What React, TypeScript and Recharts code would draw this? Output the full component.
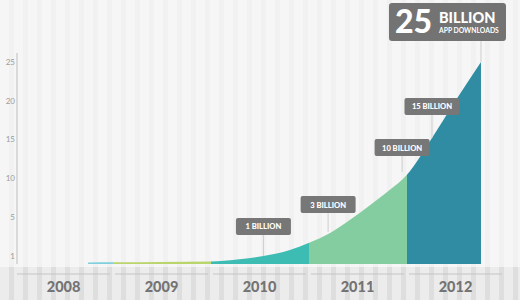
import React from 'react';
import { AreaChart, Area, XAxis, YAxis, ReferenceDot } from 'recharts';

// ---- data ----
const years = [2008, 2009, 2010, 2011, 2012];
const curveYears = [2008.75, 2009.0, 2009.5, 2010.0, 2010.27, 2010.54, 2010.81, 2011.0, 2011.22, 2011.42, 2011.63, 2011.83, 2012.0, 2012.26, 2012.5, 2012.76];
const curveValues = [-0.87, -0.84, -0.8, -0.74, -0.5, -0.03, 0.74, 1.65, 2.94, 4.6, 6.55, 8.5, 10.4, 15.2, 20.0, 25.0];
const yTickValues = [0, 5, 10, 15, 20, 25];
const yTickLabels = ['1', '5', '10', '15', '20', '25'];
const annotationYears = [2010.54, 2011.2, 2011.955, 2012.26, 2012.76];
const annotationValues = [-0.03, 3.06, 10.8, 15.2, 25.0];
const annotationLabels = ['1 BILLION', '3 BILLION', '10 BILLION', '15 BILLION', '25 BILLION'];
const segmentColors = ['#7fcfdc', '#b9d56c', '#3cbcb2', '#84cda0', '#2f8ca2'];

const data = curveYears.map((t, i) => ({ t, v: curveValues[i] }));

const FONT = "Lato, 'Open Sans', 'Liberation Sans', sans-serif";
const LIFTS = [21, 19, 16, 23, 21];

const start = curveYears[0];
const end = curveYears[curveYears.length - 1];
const stops: { off: number; color: string }[] = [];
years.forEach((y, i) => {
  const from = i === 0 ? start : y;
  const to = i === years.length - 1 ? end : years[i + 1];
  stops.push({ off: (from - start) / (end - start), color: segmentColors[i] });
  stops.push({ off: (to - start) / (end - start), color: segmentColors[i] });
});

const YearTick = (props: any) => {
  const { x, y, payload } = props;
  return (
    <g>
      <line x1={x - 46.5} x2={x + 46.5} y1={y + 10} y2={y + 10} stroke="#c4c4c4" strokeWidth={1} />
      <text x={x} y={y + 27.5} textAnchor="middle" fill="#747474" fontSize={14.5} fontWeight={900} fontFamily={FONT}>
        {Math.floor(payload.value)}
      </text>
    </g>
  );
};

const makeMarker = (label: string, big: boolean, lift: number) => (props: any) => {
  const { cx, cy } = props;
  if (big) {
    const bx = cx - 92;
    const by = cy - lift - 38;
    return (
      <g>
        <line x1={cx} x2={cx} y1={cy} y2={cy - lift} stroke="#cfcfcf" strokeWidth={1} />
        <rect x={bx} y={by} width={117} height={38} rx={3} fill="#737373" />
        <text x={bx + 6} y={by + 30} fill="#fff" fontSize={32} fontWeight={900} fontFamily={FONT}>
          {label.split(' ')[0]}
        </text>
        <text x={bx + 50} y={by + 20.5} fill="#fff" fontSize={14.5} fontWeight={900} fontFamily={FONT}>
          {label.split(' ')[1]}
        </text>
        <text x={bx + 50} y={by + 30} fill="#fff" fontSize={6.8} fontWeight={700} fontFamily={FONT}>
          APP DOWNLOADS
        </text>
      </g>
    );
  }
  const w = 55;
  const h = 17;
  return (
    <g>
      <line x1={cx} x2={cx} y1={cy} y2={cy - lift} stroke="#cfcfcf" strokeWidth={1} />
      <rect x={cx - w / 2} y={cy - lift - h} width={w} height={h} rx={2} fill="#777777" />
      <text x={cx} y={cy - lift - h / 2 + 3} textAnchor="middle" fill="#fff" fontSize={7.6} fontWeight={900} fontFamily={FONT}>
        {label}
      </text>
    </g>
  );
};

export default function App() {
  return (
    <div style={{ position: 'absolute', left: 0, top: 0, width: 520, height: 300, overflow: 'hidden', background: 'repeating-linear-gradient(90deg, #f6f6f6 0px, #f6f6f6 9px, #f1f1f1 9px, #f1f1f1 14px)' }}>
      <div style={{ position: 'absolute', left: 0, top: 267, width: 520, height: 33, background: 'repeating-linear-gradient(90deg, #ececec 0px, #ececec 9px, #dedede 9px, #dedede 14px)' }} />
      <div style={{ position: 'absolute', left: 0, top: 0 }}>
        <AreaChart width={520} height={300} data={data} margin={{ top: 53, right: 15.5, bottom: 0, left: 0 }}>
          <defs>
            <linearGradient id="segGrad" x1="0" y1="0" x2="1" y2="0">
              {stops.map((s, i) => (
                <stop key={i} offset={s.off} stopColor={s.color} />
              ))}
            </linearGradient>
          </defs>
          <XAxis
            type="number"
            dataKey="t"
            domain={[2008.025, 2013]}
            ticks={years.map((y) => y + 0.5)}
            axisLine={false}
            tickLine={false}
            tickSize={0}
            tickMargin={0}
            height={36}
            tick={<YearTick />}
            interval={0}
          />
          <YAxis
            type="number"
            domain={[-1.065, 26.16]}
            allowDataOverflow
            ticks={yTickValues}
            tickFormatter={(v: number) => yTickLabels[yTickValues.indexOf(v)]}
            width={17}
            axisLine={{ stroke: '#bdbdbd' }}
            tickLine={false}
            tickSize={0}
            tickMargin={2}
            tick={{ fill: '#9c9c9c', fontSize: 8, fontFamily: FONT }}
            interval={0}
          />
          <Area
            type="monotone"
            dataKey="v"
            stroke="none"
            fill="url(#segGrad)"
            fillOpacity={1}
            baseValue="dataMin"
            isAnimationActive={false}
          />
          {annotationYears.map((t, i) => (
            <ReferenceDot
              key={i}
              x={t}
              y={annotationValues[i]}
              r={0}
              shape={makeMarker(annotationLabels[i], i === annotationYears.length - 1, LIFTS[i])}
            />
          ))}
        </AreaChart>
      </div>
    </div>
  );
}
